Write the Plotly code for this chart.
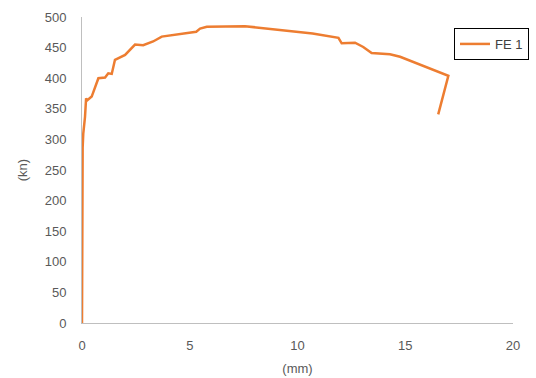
import plotly.graph_objects as go

disp_mm = [0, 0, 0.0, 0.03, 0.06, 0.14, 0.19, 0.25, 0.45, 0.76, 1.07, 1.22, 1.38, 1.53,
           2.0, 2.46, 2.84, 3.3, 3.7, 5.3, 5.48, 5.79, 7.56, 10.7, 11.9, 12.05, 12.67,
           13.05, 13.44, 14.29, 14.76, 17.0, 16.53]
load_kn = [0, 150, 278, 287, 310, 337, 367, 364, 370, 400, 401, 408, 407, 430,
           438, 455, 454, 460, 468, 476, 481, 484, 485, 473, 466, 457, 458,
           451, 441, 439, 435, 404, 341]

x_ticks = [0, 5, 10, 15, 20]
y_ticks = list(range(0, 501, 50))

fig = go.Figure()
fig.add_trace(go.Scatter(x=disp_mm, y=load_kn, mode="lines", name="FE 1",
                         line=dict(color="#ED7D31", width=2.5)))

axis_font = dict(family="Liberation Sans, Arial, sans-serif", size=13, color="#595959")
fig.update_layout(
    width=536, height=378,
    margin=dict(l=82, r=23, t=17, b=55, autoexpand=False),
    paper_bgcolor="white", plot_bgcolor="white",
    showlegend=True,
    legend=dict(xref="container", yref="container", x=0.847, y=0.926,
                xanchor="left", yanchor="top",
                bordercolor="black", borderwidth=1, bgcolor="white",
                font=dict(family="Liberation Sans, Arial, sans-serif", size=13, color="#404040")),
    xaxis=dict(range=[0, 20], tickvals=x_ticks, showgrid=False, zeroline=False,
               showline=True, linecolor="#BFBFBF", linewidth=1, ticks="",
               tickfont=axis_font, ticklabelstandoff=10, automargin=False,
               title=dict(text="(mm)", font=axis_font, standoff=12)),
    yaxis=dict(range=[0, 500], tickvals=y_ticks, showgrid=False, zeroline=False,
               showline=True, linecolor="#BFBFBF", linewidth=1, ticks="",
               tickfont=axis_font, ticklabelstandoff=12, automargin=False,
               title=dict(text="(kn)", font=axis_font, standoff=14)),
)
fig.write_html("out.html")
